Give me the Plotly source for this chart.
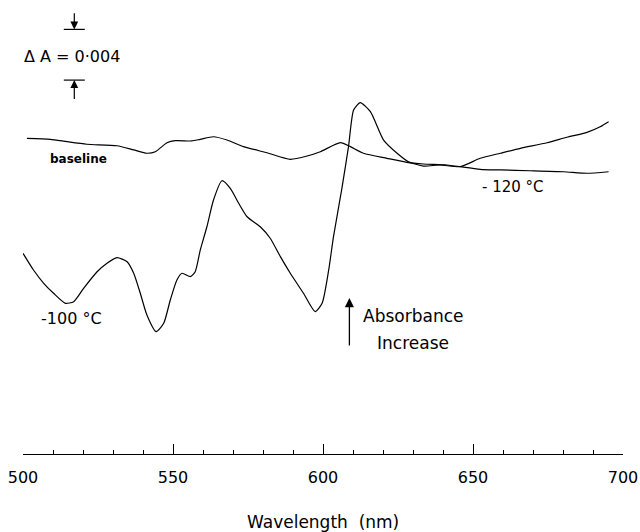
import plotly.graph_objects as go

# wavelength (nm) and relative absorbance (units of 0.001 A, arbitrary offset)
baseline_wl = [501.3, 509.1, 514.7, 521.3, 531.3, 536.9, 541.3, 544.1, 548.0, 550.8,
               556.3, 559.1, 563.5, 568.0, 573.5, 581.3, 589.1, 594.7, 599.1, 605.8,
               609.1, 613.5, 621.3, 628.0, 633.5, 641.3, 652.4, 659.1, 669.1, 680.2,
               688.0, 695.2]
baseline_dA = [24.91, 24.83, 24.64, 24.44, 24.32, 23.99, 23.73, 23.85, 24.56, 24.72,
               24.70, 24.83, 25.03, 24.77, 24.25, 23.77, 23.25, 23.51, 23.85, 24.56,
               24.25, 23.73, 23.33, 23.01, 22.88, 22.80, 22.46, 22.41, 22.35, 22.27,
               22.15, 22.27]

m100_wl = [500.0, 503.5, 506.9, 510.2, 514.1, 516.9, 520.2, 524.7, 528.0, 531.3,
           534.7, 536.9, 539.1, 541.3, 544.4, 546.9, 549.1, 551.3, 553.0, 555.8,
           557.4, 559.1, 561.3, 563.5, 566.3, 569.1, 571.9, 574.7, 579.1, 582.4,
           585.8, 589.1, 593.5, 597.4, 599.7, 601.9, 603.5, 606.3, 608.5, 610.2,
           612.4, 615.8, 620.2, 624.7, 628.5, 633.5, 639.1, 645.8, 652.4, 659.1,
           665.8, 674.7, 681.3, 688.0, 692.4, 695.2]
m100_dA = [15.84, 14.52, 13.47, 12.68, 11.89, 12.02, 13.07, 14.38, 15.05, 15.49,
           15.17, 14.26, 12.68, 10.97, 9.65, 10.31, 12.15, 13.73, 14.26, 13.99,
           14.38, 16.10, 17.93, 20.04, 21.56, 20.96, 19.78, 18.72, 17.93, 17.02,
           15.57, 14.26, 12.68, 11.23, 11.89, 14.52, 17.15, 20.96, 24.25, 27.14,
           27.72, 27.01, 24.77, 23.73, 23.06, 22.72, 22.80, 22.67, 23.33, 23.73,
           24.12, 24.56, 24.99, 25.38, 25.82, 26.22]

tick_vals = [500, 550, 600, 650, 700]
tick_text = ["500", "550", "600", "650", "700"]

# scale bar: delta A = 0.004 (4 x 0.001 A)
scale_wl = 517.1
scale_top = 33.5
scale_dA = 4.0

FONT = "DejaVu Sans"
INK = "black"

fig = go.Figure()
fig.add_trace(go.Scatter(x=baseline_wl, y=baseline_dA, mode="lines",
                         line=dict(color=INK, width=1.2, shape="spline", smoothing=0.6),
                         showlegend=False, hoverinfo="skip"))
fig.add_trace(go.Scatter(x=m100_wl, y=m100_dA, mode="lines",
                         line=dict(color=INK, width=1.2, shape="spline", smoothing=0.6),
                         showlegend=False, hoverinfo="skip"))

# scale bar horizontal bars
for yy in (scale_top, scale_top - scale_dA):
    fig.add_shape(type="line", xref="x", yref="y",
                  x0=scale_wl - 3.5, x1=scale_wl + 3.5, y0=yy, y1=yy,
                  line=dict(color=INK, width=1.2))

ann = []
# down arrow onto top bar
ann.append(dict(x=scale_wl, y=scale_top, ax=scale_wl, ay=scale_top + 1.4,
                xref="x", yref="y", axref="x", ayref="y", text="", showarrow=True,
                arrowhead=2, arrowsize=1.3, arrowwidth=1.2, arrowcolor=INK))
# up arrow onto bottom bar
ann.append(dict(x=scale_wl, y=scale_top - scale_dA, ax=scale_wl, ay=scale_top - scale_dA - 1.6,
                xref="x", yref="y", axref="x", ayref="y", text="", showarrow=True,
                arrowhead=2, arrowsize=1.3, arrowwidth=1.2, arrowcolor=INK))
ann.append(dict(x=516.3, y=31.4, xref="x", yref="y", text="\u0394 A = 0\u00b7004",
                showarrow=False, font=dict(family=FONT, size=16, color=INK)))
ann.append(dict(x=518.4, y=23.28, xref="x", yref="y", text="<b>baseline</b>",
                showarrow=False, font=dict(family=FONT, size=12, color=INK)))
ann.append(dict(x=516.1, y=10.73, xref="x", yref="y", text="-100 \u00b0C",
                showarrow=False, font=dict(family=FONT, size=16, color=INK)))
ann.append(dict(x=663.3, y=21.07, xref="x", yref="y", text="- 120 \u00b0C",
                showarrow=False, font=dict(family=FONT, size=15, color=INK)))
# absorbance increase arrow
ann.append(dict(x=608.8, y=12.3, ax=608.8, ay=8.44,
                xref="x", yref="y", axref="x", ayref="y", text="", showarrow=True,
                arrowhead=2, arrowsize=1.4, arrowwidth=1.3, arrowcolor=INK))
ann.append(dict(x=630.0, y=10.89, xref="x", yref="y", text="Absorbance",
                showarrow=False, font=dict(family=FONT, size=17, color=INK)))
ann.append(dict(x=630.1, y=8.76, xref="x", yref="y", text="Increase",
                showarrow=False, font=dict(family=FONT, size=17, color=INK)))
# axis title
ann.append(dict(x=600, y=-0.15, xref="x", yref="paper", yanchor="middle",
                text="Wavelength  (nm)", showarrow=False,
                font=dict(family=FONT, size=17, color=INK)))

fig.update_layout(
    width=640, height=532,
    margin=dict(l=23, r=17, t=0, b=78),
    paper_bgcolor="white", plot_bgcolor="white",
    annotations=ann,
    xaxis=dict(range=[500, 700], tickvals=tick_vals, ticktext=tick_text,
               showgrid=False, zeroline=False, showline=True, linecolor=INK, linewidth=1.2,
               ticks="inside", ticklen=10, tickwidth=1.2, tickcolor=INK,
               ticklabelstandoff=9,
               minor=dict(dtick=10, tick0=500, ticks="inside", ticklen=4,
                          tickwidth=1.2, tickcolor=INK, showgrid=False),
               tickfont=dict(family=FONT, size=16, color=INK)),
    yaxis=dict(range=[0, 35.82], visible=False, showgrid=False, zeroline=False),
)

fig.write_html("out.html", config={"displayModeBar": False},
               post_script="document.body.style.margin='0';document.body.style.overflow='hidden';")
